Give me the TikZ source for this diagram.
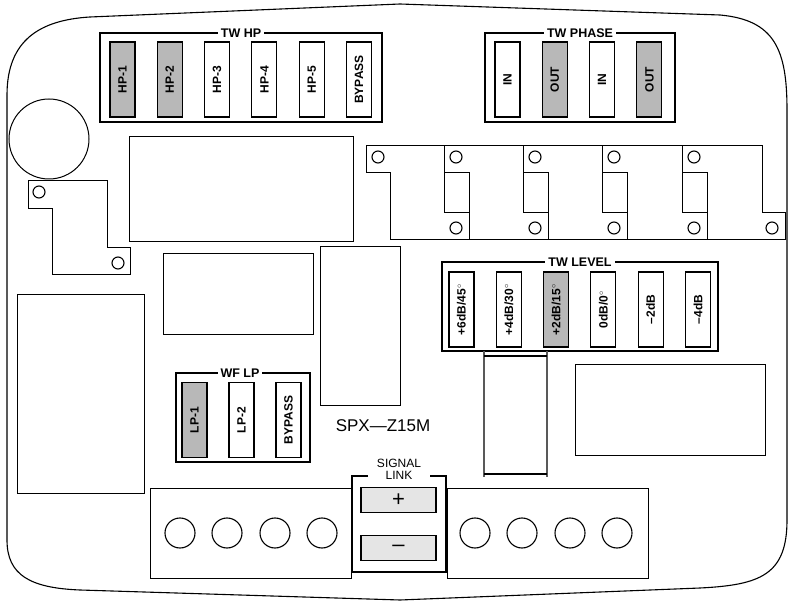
\documentclass[tikz,border=0pt]{standalone}
\usepackage{fontspec}
\setmainfont{Liberation Sans}
\usetikzlibrary{positioning,calc}
\definecolor{jmpgray}{gray}{0.72}
\definecolor{lnkgray}{gray}{0.9}
\begin{document}
\begin{tikzpicture}[x=1pt, y=-1pt, line width=1.1pt,
    jumper/.style={draw, fill=white, minimum width=25pt, minimum height=75pt, inner sep=0pt},
    jlabel/.style={rotate=90, font=\bfseries\fontsize{12}{12}\selectfont},
    group/.style={font=\bfseries\fontsize{12.5}{12}\selectfont, fill=white, inner sep=3pt},
    hole/.style={draw, circle, minimum size=12pt, inner sep=0pt},
    screw/.style={draw, circle, minimum size=30pt, inner sep=0pt},
    part/.style={draw, line width=1pt}
]
    \useasboundingbox (0,0) rectangle (795,601);

    % Board outline
    \draw (7,540) -- (7,95) .. controls (7,40) and (40,20) .. (90,17) -- (400,4)
        -- (720,15) .. controls (775,20) and (787,50) .. (787,110) -- (787,520)
        .. controls (787,575) and (760,585) .. (700,588) -- (400,600) -- (80,590)
        .. controls (30,588) and (7,575) .. (7,540) -- cycle;

    % TW HP
    \draw (100,33) rectangle (382,122);
    \node[group] (twhp) at (241,33) {TW HP};
    \foreach \i/\t/\f in {0/HP-1/jmpgray, 1/HP-2/jmpgray, 2/HP-3/white, 3/HP-4/white, 4/HP-5/white, 5/BYPASS/white} {
        \node[jumper, fill=\f] (hp\i) at (122.5+\i*47.3,79.5) {};
        \node[jlabel] at (hp\i) {\t};
    }

    % TW PHASE
    \draw (485,33) rectangle (675,122);
    \node[group] (twph) at (580,33) {TW PHASE};
    \foreach \i/\t/\f in {0/IN/white, 1/OUT/jmpgray, 2/IN/white, 3/OUT/jmpgray} {
        \node[jumper, fill=\f] (ph\i) at (507.5+\i*47.3,79.5) {};
        \node[jlabel] at (ph\i) {\t};
    }

    % Parts
    \draw[part] (49,139) circle (40);
    \draw[part] (129,137) rectangle (353,242);
    \draw[part] (28,181) -- (107,181) -- (107,248) -- (130,248) -- (130,275)
        -- (52,275) -- (52,209) -- (28,209) -- cycle;
    \node[hole] (ha) at (39,192) {};
    \node[hole] (hb) at (118,263) {};

    % Heat sink chain
    \draw[part] (366,146) -- (762,146) -- (762,213) -- (785,213) -- (785,240)
        -- (390,240) -- (390,173) -- (366,173) -- cycle;
    \node[hole] (hs0) at (378,157) {};
    \node[hole] (hse) at (772,228) {};
    \foreach \x in {444,523,602,682} {
        \draw[part] (\x,146) -- (\x,173);
        \draw[part, fill=white] (\x,173) rectangle (\x+25,213);
        \draw[part] (\x+25,213) -- (\x+25,240);
        \node[hole] at (\x+12,157) {};
        \node[hole] at (\x+12,228) {};
    }

    \draw[part] (163,254) rectangle (313,335);
    \draw[part] (320,247) rectangle (400,405);
    \draw[part] (17,295) rectangle (144,493);
    \draw[part] (575,365) rectangle (765,455);

    % WF LP
    \draw (176,373) rectangle (310,462);
    \node[group] (wflp) at (240,373) {WF LP};
    \foreach \i/\t/\f in {0/LP-1/jmpgray, 1/LP-2/white, 2/BYPASS/white} {
        \node[jumper, fill=\f] (lp\i) at (194.5+\i*47,420) {};
        \node[jlabel] at (lp\i) {\t};
    }

    \node[font=\fontsize{17}{17}\selectfont] (model) at (383,426) {SPX—Z15M};

    % TW LEVEL
    \draw (442,262) rectangle (718,351);
    \node[group] (twlv) at (580,262) {TW LEVEL};
    \foreach \i/\f in {0/white, 1/white, 2/jmpgray, 3/white, 4/white, 5/white} {
        \node[jumper, fill=\f] (lv\i) at (461.5+\i*47.3,309.5) {};
    }
    \node[jlabel] at (lv0) {+6dB/45$^\circ$};
    \node[jlabel] at (lv1) {+4dB/30$^\circ$};
    \node[jlabel] at (lv2) {+2dB/15$^\circ$};
    \node[jlabel] at (lv3) {0dB/0$^\circ$};
    \node[jlabel] at (lv4) {–2dB};
    \node[jlabel] at (lv5) {–4dB};

    % Cap under TW LEVEL
    \draw[line width=2.5pt, gray!70!black] (484,351) -- (484,477) (547,351) -- (547,477);
    \draw (484,356) -- (547,356) (484,474) -- (547,474);

    % Terminal blocks
    \draw[part] (150,488) rectangle (351,578);
    \draw[part] (447,488) rectangle (648,578);
    \foreach \x in {180,227,275,322} \node[screw] at (\x,533) {};
    \foreach \x in {475,522,570,617} \node[screw] at (\x,533) {};

    % Signal link
    \draw (368,476) -- (352,476) -- (352,572) -- (446,572) -- (446,476) -- (430,476);
    \node[font=\fontsize{12}{12}\selectfont, align=center, inner sep=0pt] (sig) at (399,469) {SIGNAL\\LINK};
    \node[draw, fill=lnkgray, minimum width=75pt, minimum height=25pt, inner sep=0pt,
        font=\fontsize{22}{22}\selectfont] (plus) at (398.5,500) {+};
    \node[draw, fill=lnkgray, minimum width=75pt, minimum height=25pt, inner sep=0pt,
        font=\fontsize{22}{22}\selectfont] (minus) at (398.5,548) {–};
\end{tikzpicture}
\end{document}
